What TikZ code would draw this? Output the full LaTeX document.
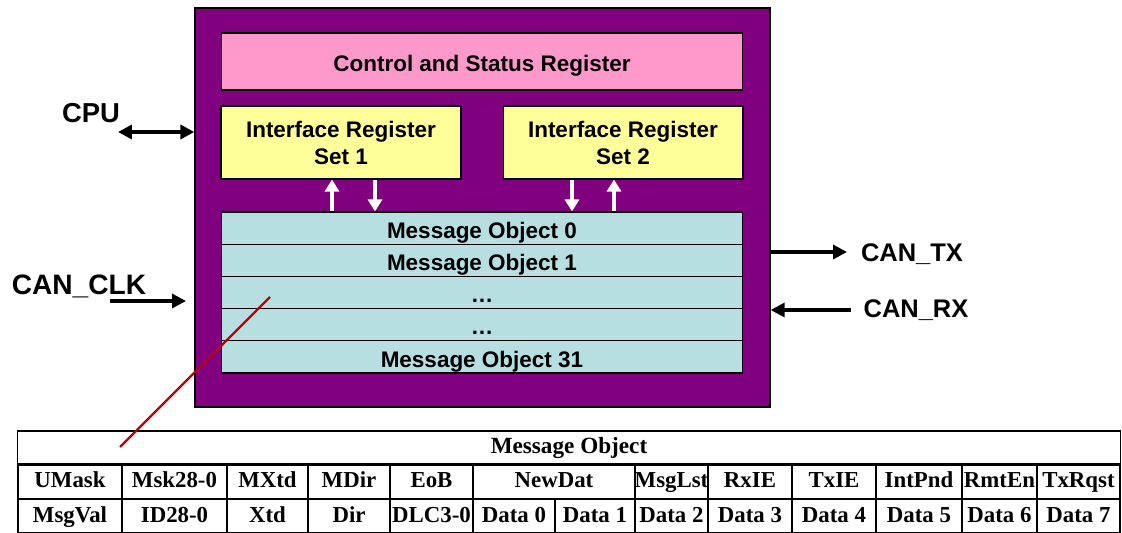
\documentclass[tikz,border=0pt]{standalone}
\usepackage{fontspec}
\setsansfont{Liberation Sans}
\newfontfamily\tabfont{Liberation Serif}
\usetikzlibrary{arrows.meta}

\definecolor{canpurple}{RGB}{128,0,128}
\definecolor{csrpink}{RGB}{255,153,204}
\definecolor{iryellow}{RGB}{255,255,153}
\definecolor{mocyan}{RGB}{183,222,225}
\definecolor{linkred}{RGB}{192,0,0}

\tikzset{
  blk/.style={draw=black, line width=0.6pt, inner sep=0pt, align=center,
    font=\sffamily\bfseries\fontsize{12.8}{15.4}\selectfont},
  mobj/.style={blk, fill=mocyan, minimum width=10.44cm, minimum height=0.644cm,
    text height=12pt, text depth=0.5pt},
  sig/.style={inner sep=0pt, font=\sffamily\bfseries\fontsize{14.5}{17}\selectfont},
  pin/.style={-{Triangle[length=2.8mm,width=2.8mm]}, line width=1.9pt},
  wflow/.style={-{Triangle[length=2.4mm,width=2.8mm]}, white, line width=2.2pt},
  cell/.style={draw, line width=0.6pt, inner sep=0pt, text height=9pt, text depth=2pt,
    font=\tabfont\bfseries\fontsize{13}{15}\selectfont}
}

\begin{document}
\begin{tikzpicture}[x=0.02cm, y=-0.02cm]
\useasboundingbox (0,0) rectangle (1122,533);

% controller
\node[draw, fill=canpurple, line width=0.8pt, minimum width=11.5cm, minimum height=7.98cm] (can) at (482.5,207.5) {};
\node[blk, fill=csrpink, minimum width=10.44cm, minimum height=1.14cm, text height=12pt, text depth=0.5pt] (csr) at (482,61.5) {Control and Status Register};
\node[blk, fill=iryellow, minimum width=4.8cm, minimum height=1.46cm] (ir1) at (341,142.5) {Interface Register\\Set 1};
\node[blk, fill=iryellow, minimum width=4.8cm, minimum height=1.46cm] (ir2) at (623,142.5) {Interface Register\\Set 2};

% message RAM
\foreach \t [count=\i from 0] in {Message Object 0, Message Object 1, …, …, Message Object 31}
  \node[mobj] (mo\i) at (482,{228.1+32.2*\i}) {\t};

\draw[wflow] (mo0.north -| 332,0) -- (ir1.south -| 332,0);
\draw[wflow] (ir1.south -| 375,0) -- (mo0.north -| 375,0);
\draw[wflow] (ir2.south -| 572,0) -- (mo0.north -| 572,0);
\draw[wflow] (mo0.north -| 614,0) -- (ir2.south -| 614,0);

% pins
\node[sig, font=\sffamily\bfseries\fontsize{15.6}{18}\selectfont] (cpu) at (91,113) {CPU};
\node[sig, font=\sffamily\bfseries\fontsize{16}{18}\selectfont] (clk) at (79,286) {CAN\_CLK};
\node[sig] (tx) at (912,254) {CAN\_TX};
\node[sig] (rx) at (916,310) {CAN\_RX};

\coordinate (cpuend) at (118,132);
\coordinate (clkin) at (110,301);
\coordinate (clkend) at (186,301);
\coordinate (txend) at (847,252);
\coordinate (rxin) at (851,310);

\draw[pin, {Triangle[length=2.8mm,width=2.8mm]}-{Triangle[length=2.8mm,width=2.8mm]}] (cpuend) -- (can.west |- cpuend);
\draw[pin] (clkin) -- (clkend);
\draw[pin] (can.east |- txend) -- (txend);
\draw[pin] (rxin) -- (can.east |- rxin);

% message object layout
\node[cell, minimum width=22.06cm, minimum height=0.66cm, font=\tabfont\bfseries\fontsize{13.2}{15}\selectfont] (hdr) at (569,447.5) {Message Object};

\foreach \l/\r/\t [count=\i] in {18/122/UMask, 122/227/Msk28-0, 227/308/MXtd, 308/390/MDir,
    390/473/EoB, 473/635/NewDat, 635/708/MsgLst, 708/792/RxIE, 792/876/TxIE,
    876/962/IntPnd, 962/1037/RmtEn, 1037/1120/TxRqst}
  \node[cell, minimum width={(\r-\l)*0.02cm}, minimum height=0.7cm] (fa\i) at ({(\l+\r)/2},481.5) {\t};

\foreach \l/\r/\t [count=\i] in {18/122/MsgVal, 122/227/ID28-0, 227/308/Xtd, 308/390/Dir,
    390/473/DLC3-0, 473/555/Data 0, 555/635/Data 1, 635/708/Data 2, 708/792/Data 3,
    792/876/Data 4, 876/962/Data 5, 962/1037/Data 6, 1037/1120/Data 7}
  \node[cell, minimum width={(\r-\l)*0.02cm}, minimum height=0.68cm] (fb\i) at ({(\l+\r)/2},516) {\t};

\draw[line width=1.7pt] (hdr.south west) -- (hdr.south east);

% link
\coordinate (moref) at (270,297);
\coordinate (tabref) at (120,447);
\draw[linkred, line width=1.4pt] (moref) -- (tabref);
\end{tikzpicture}
\end{document}
